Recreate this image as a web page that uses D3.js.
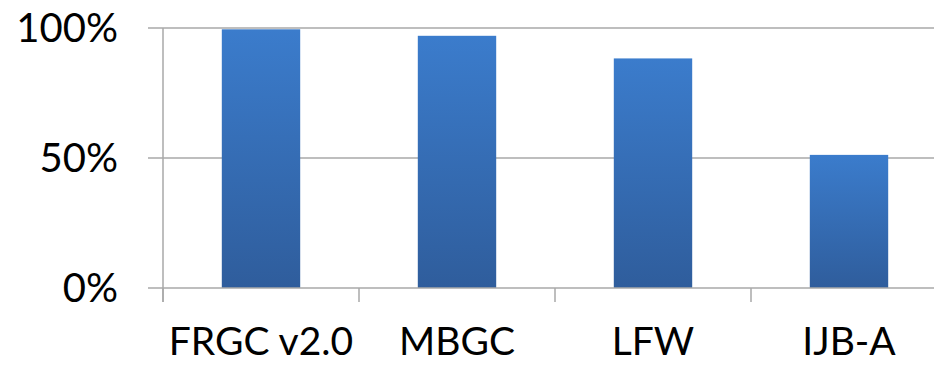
<!DOCTYPE html>
<html>
<head>
<meta charset="utf-8">
<script src="https://cdn.jsdelivr.net/npm/d3@7"></script>
<style>
  html, body { margin: 0; padding: 0; background: #fff; }
  svg { display: block; }
  text { font-family: Lato, "Open Sans", "Noto Sans", sans-serif; fill: #000; }
</style>
</head>
<body>
<svg id="chart" width="934" height="365"></svg>
<script>
// Benchmark datasets and their accuracy (fraction)
const categories = ["FRGC v2.0", "MBGC", "LFW", "IJB-A"];
const values = [0.995, 0.970, 0.883, 0.512];
const yTicks = [0, 0.5, 1];
const yTickLabels = ["0%", "50%", "100%"];

const W = 934, H = 365;
const plot = { left: 163, right: 947, top: 28, bottom: 288 };

const svg = d3.select("#chart");

const x = d3.scaleBand()
  .domain(categories)
  .range([plot.left, plot.right])
  .paddingInner(0.6)
  .paddingOuter(0.3);

const y = d3.scaleLinear()
  .domain([0, 1])
  .range([plot.bottom, plot.top]);

// Vertical gradient for the bars
const defs = svg.append("defs");
const grad = defs.append("linearGradient")
  .attr("id", "barGrad")
  .attr("x1", 0).attr("y1", 0).attr("x2", 0).attr("y2", 1);
grad.append("stop").attr("offset", "0%").attr("stop-color", "#3b7ccc");
grad.append("stop").attr("offset", "100%").attr("stop-color", "#2f5d9c");

const gridColor = "#a9a9a9";

// Horizontal gridlines (above zero)
svg.append("g")
  .selectAll("line")
  .data(yTicks.filter(d => d > 0))
  .join("line")
  .attr("x1", 148)
  .attr("x2", W)
  .attr("y1", d => y(d))
  .attr("y2", d => y(d))
  .attr("stroke", gridColor)
  .attr("stroke-width", 1.5);

// Bars
svg.append("g")
  .selectAll("rect")
  .data(categories)
  .join("rect")
  .attr("x", d => x(d))
  .attr("width", x.bandwidth())
  .attr("y", (d, i) => y(values[i]))
  .attr("height", (d, i) => y(0) - y(values[i]))
  .attr("fill", "url(#barGrad)");

// Y axis line
svg.append("line")
  .attr("x1", plot.left).attr("x2", plot.left)
  .attr("y1", y(1)).attr("y2", y(0) + 14)
  .attr("stroke", gridColor)
  .attr("stroke-width", 1.5);

// X axis baseline
svg.append("line")
  .attr("x1", 148).attr("x2", W)
  .attr("y1", y(0)).attr("y2", y(0))
  .attr("stroke", gridColor)
  .attr("stroke-width", 1.5);

// Category boundary ticks
const boundaries = categories.map(c => x(c) - x.step() * x.paddingOuter());
svg.append("g")
  .selectAll("line")
  .data(boundaries)
  .join("line")
  .attr("x1", d => d).attr("x2", d => d)
  .attr("y1", y(0)).attr("y2", y(0) + 14)
  .attr("stroke", gridColor)
  .attr("stroke-width", 1.5);

// Y tick labels
svg.append("g")
  .selectAll("text")
  .data(yTicks)
  .join("text")
  .attr("x", 118)
  .attr("y", d => y(d))
  .attr("dy", "0.36em")
  .attr("text-anchor", "end")
  .attr("font-size", 40)
  .text((d, i) => yTickLabels[i]);

// Category labels
svg.append("g")
  .selectAll("text")
  .data(categories)
  .join("text")
  .attr("x", d => x(d) + x.bandwidth() / 2)
  .attr("y", 355)
  .attr("text-anchor", "middle")
  .attr("font-size", 39)
  .text(d => d);
</script>
</body>
</html>
